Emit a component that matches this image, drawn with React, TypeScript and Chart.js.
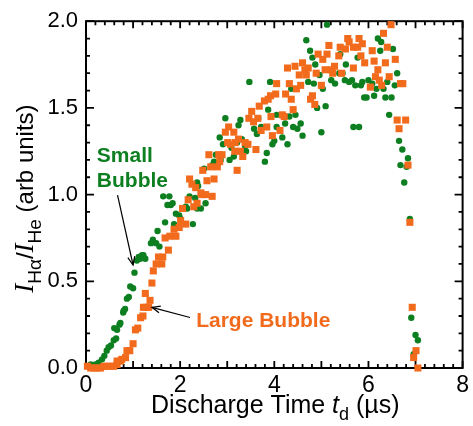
import React, { useEffect, useRef } from 'react';
import { Chart, registerables } from 'chart.js';
Chart.register(...registerables);

const xTickValues = [0, 2, 4, 6, 8];
const yTickValues = [0, 0.5, 1.0, 1.5, 2.0];

// Small bubble (green circles): [time td (µs), I_Ha/I_He]
const smallBubble: [number, number][] = [
  [0.10,0.02],[0.20,0.02],[0.27,0.03],[0.34,0.05],[0.39,0.07],[0.44,0.10],[0.48,0.12],[0.53,0.13],[0.59,0.16],[0.64,0.17],
  [0.60,0.23],[0.66,0.22],[0.71,0.25],[0.73,0.26],[0.79,0.32],[0.80,0.33],[0.83,0.34],[0.87,0.40],[0.91,0.41],[0.94,0.47],
  [1.00,0.46],[1.03,0.55],[1.08,0.62],[1.12,0.64],[1.15,0.63],[1.19,0.65],[1.22,0.65],[1.26,0.63],[1.38,0.72],[1.42,0.74],
  [1.49,0.72],[1.52,0.79],[1.56,0.70],[1.64,0.99],[1.68,0.84],[1.73,0.94],[1.77,0.99],[1.80,0.94],[1.84,0.95],[1.87,0.83],
  [1.91,0.89],[1.98,0.88],[2.01,0.86],[2.12,0.93],[2.15,0.92],[2.20,0.99],[2.27,0.83],[2.32,0.98],[2.36,1.07],[2.38,1.05],
  [2.36,0.92],[2.44,0.92],[2.51,1.15],[2.54,0.95],[2.65,1.16],[2.68,1.17],[2.72,1.19],[2.76,1.23],[2.79,1.17],[2.84,1.33],
  [2.86,1.20],[2.91,1.29],[2.96,1.44],[3.05,1.20],[3.09,1.27],[3.14,1.22],[3.21,1.30],[3.24,1.40],[3.28,1.43],[3.31,1.32],
  [3.38,1.28],[3.40,1.25],[3.47,1.65],[3.57,1.38],[3.63,1.35],[3.66,1.44],[3.72,1.39],[3.80,1.19],[3.84,1.24],[3.87,1.49],
  [3.91,1.65],[3.96,1.29],[4.00,1.31],[4.05,1.46],[4.05,1.39],[4.17,1.33],[4.23,1.41],[4.28,1.29],[4.32,1.45],[4.36,1.61],
  [4.40,1.39],[4.45,1.46],[4.49,1.38],[4.56,1.41],[4.60,1.34],[4.68,1.89],[4.72,1.65],[4.76,1.83],[4.81,1.79],[4.84,1.64],
  [4.87,1.75],[4.91,1.50],[4.96,1.69],[5.00,1.36],[5.03,1.61],[5.09,1.51],[5.12,1.98],[5.21,1.66],[5.29,1.64],[5.38,1.70],
  [5.40,1.81],[5.45,1.70],[5.50,1.66],[5.52,1.75],[5.59,1.65],[5.65,1.66],[5.68,1.39],[5.72,1.63],[5.77,1.79],[5.80,1.39],
  [5.84,1.63],[5.87,1.65],[5.91,1.56],[5.96,1.56],[6.00,1.66],[6.08,1.64],[6.12,1.57],[6.17,1.61],[6.20,1.90],[6.25,1.83],
  [6.27,1.88],[6.32,1.61],[6.36,1.56],[6.40,1.65],[6.44,1.46],[6.49,1.56],[6.52,1.84],[6.56,1.63],[6.61,1.70],[6.65,1.31],
  [6.68,1.17],[6.72,1.26],[6.76,1.07],[6.81,1.16],[6.84,1.21],[6.88,0.86],[6.91,0.29],[6.96,0.08],[7.00,0.19],[7.05,0.16],
];

// Large bubble (orange squares)
const largeBubble: [number, number][] = [
  [0.03,0.01],[0.10,0.00],[0.17,0.00],[0.24,0.00],[0.31,0.00],[0.38,0.01],[0.45,0.01],[0.52,0.01],[0.59,0.01],[0.66,0.02],
  [0.66,0.04],[0.73,0.04],[0.76,0.05],[0.84,0.06],[0.87,0.10],[0.93,0.10],[1.00,0.14],[1.05,0.22],[1.10,0.23],[1.16,0.29],
  [1.21,0.30],[1.22,0.35],[1.26,0.43],[1.28,0.35],[1.33,0.35],[1.36,0.39],[1.40,0.49],[1.43,0.56],[1.49,0.60],[1.54,0.64],
  [1.61,0.60],[1.63,0.64],[1.68,0.75],[1.75,0.68],[1.78,0.76],[1.87,0.80],[1.91,0.76],[1.98,0.81],[2.01,0.85],[2.05,0.92],
  [2.12,0.83],[2.17,0.97],[2.20,1.09],[2.25,1.06],[2.29,0.93],[2.33,1.04],[2.36,0.95],[2.44,1.01],[2.46,1.00],[2.48,1.14],
  [2.54,1.00],[2.57,1.08],[2.61,1.23],[2.65,1.16],[2.68,0.99],[2.72,1.09],[2.79,1.16],[2.82,1.23],[2.84,1.19],[2.89,1.23],
  [2.96,1.36],[3.01,1.30],[3.03,1.39],[3.07,1.29],[3.14,1.36],[3.16,1.25],[3.17,1.30],[3.21,1.14],[3.24,1.32],[3.28,1.25],
  [3.33,1.22],[3.38,1.30],[3.44,1.29],[3.46,1.44],[3.52,1.48],[3.56,1.42],[3.61,1.26],[3.65,1.44],[3.68,1.51],[3.72,1.37],
  [3.79,1.54],[3.84,1.39],[3.87,1.55],[3.92,1.57],[3.93,1.45],[3.96,1.34],[4.03,1.58],[4.05,1.64],[4.12,1.37],[4.17,1.46],
  [4.21,1.45],[4.24,1.58],[4.28,1.73],[4.32,1.64],[4.36,1.55],[4.40,1.49],[4.44,1.74],[4.47,1.61],[4.53,1.69],[4.56,1.63],
  [4.60,1.76],[4.65,1.72],[4.68,1.69],[4.72,1.73],[4.77,1.55],[4.81,1.57],[4.86,1.52],[4.89,1.70],[4.93,1.81],[5.00,1.63],
  [5.03,1.78],[5.08,1.72],[5.12,1.81],[5.16,1.86],[5.21,1.72],[5.24,1.70],[5.28,1.74],[5.37,1.80],[5.40,1.85],[5.43,1.70],
  [5.51,1.84],[5.56,1.90],[5.59,1.88],[5.68,1.85],[5.68,1.73],[5.77,1.85],[5.80,1.90],[5.84,1.80],[5.87,1.87],[5.92,1.76],
  [6.04,1.62],[6.08,1.83],[6.12,1.77],[6.15,1.68],[6.20,1.72],[6.23,1.66],[6.28,1.63],[6.32,1.93],[6.36,1.76],[6.40,1.85],
  [6.44,1.68],[6.48,1.98],[6.57,1.78],[6.61,1.43],[6.65,1.38],[6.68,1.64],[6.73,1.64],[6.79,1.43],[6.84,1.17],[6.88,0.84],
  [6.93,0.35],[6.96,0.06],[7.01,0.10],[7.05,0.00],
];

const GREEN = '#0d7f20';
const ORANGE = '#f26b1d';
const SANS = '"Liberation Sans", Arial, Helvetica, sans-serif';
const SERIF = '"Liberation Serif", "Times New Roman", serif';

type Piece = { t: string; font: string; dy: number };

function drawPieces(ctx: CanvasRenderingContext2D, pieces: Piece[], cx: number, baseY: number) {
  let total = 0;
  const widths = pieces.map((p) => {
    ctx.font = p.font;
    const w = ctx.measureText(p.t).width;
    total += w;
    return w;
  });
  let x = cx - total / 2;
  ctx.textAlign = 'left';
  ctx.textBaseline = 'alphabetic';
  pieces.forEach((p, i) => {
    ctx.font = p.font;
    ctx.fillText(p.t, x, baseY + p.dy);
    x += widths[i];
  });
}

function arrow(ctx: CanvasRenderingContext2D, x1: number, y1: number, x2: number, y2: number) {
  ctx.beginPath();
  ctx.moveTo(x1, y1);
  ctx.lineTo(x2, y2);
  ctx.stroke();
  const ang = Math.atan2(y2 - y1, x2 - x1);
  const L = 9;
  const spread = 0.4;
  ctx.beginPath();
  ctx.moveTo(x2 - L * Math.cos(ang - spread), y2 - L * Math.sin(ang - spread));
  ctx.lineTo(x2, y2);
  ctx.lineTo(x2 - L * Math.cos(ang + spread), y2 - L * Math.sin(ang + spread));
  ctx.stroke();
}

const framePlugin = {
  id: 'frameTicks',
  beforeDatasetsDraw(chart: any) {
    const { ctx, chartArea: a, scales } = chart;
    const xs = scales.x;
    const ys = scales.y;
    ctx.save();
    ctx.strokeStyle = '#000';
    ctx.lineWidth = 2;
    ctx.strokeRect(a.left, a.top, a.right - a.left, a.bottom - a.top);
    ctx.lineWidth = 1.8;
    ctx.beginPath();
    for (let i = 0; i <= 40; i++) {
      const px = xs.getPixelForValue(i / 5);
      const len = i % 5 === 0 ? 7 : 4;
      ctx.moveTo(px, a.bottom);
      ctx.lineTo(px, a.bottom - len);
      ctx.moveTo(px, a.top);
      ctx.lineTo(px, a.top + len);
    }
    for (let i = 0; i <= 20; i++) {
      const py = ys.getPixelForValue(i / 10);
      const len = i % 5 === 0 ? 8 : 4;
      ctx.moveTo(a.left, py);
      ctx.lineTo(a.left + len, py);
      ctx.moveTo(a.right, py);
      ctx.lineTo(a.right - len, py);
    }
    ctx.stroke();
    ctx.restore();
  },
  afterDraw(chart: any) {
    const { ctx, chartArea: a, scales } = chart;
    const xs = scales.x;
    const ys = scales.y;
    ctx.save();
    ctx.fillStyle = '#000';
    // x axis title
    drawPieces(
      ctx,
      [
        { t: 'Discharge Time ', font: `25px ${SANS}`, dy: 0 },
        { t: 't', font: `italic 25px ${SANS}`, dy: 0 },
        { t: 'd', font: `18px ${SANS}`, dy: 7 },
        { t: ' (\u00b5s)', font: `25px ${SANS}`, dy: 0 },
      ],
      (a.left + a.right) / 2 + 1,
      413
    );
    // y axis title (rotated)
    ctx.save();
    ctx.translate(33, (a.top + a.bottom) / 2 + 4);
    ctx.rotate(-Math.PI / 2);
    drawPieces(
      ctx,
      [
        { t: 'I', font: `italic 27px ${SERIF}`, dy: 0 },
        { t: 'H\u03b1', font: `19px ${SANS}`, dy: 8 },
        { t: '/', font: `24px ${SANS}`, dy: 0 },
        { t: 'I', font: `italic 27px ${SERIF}`, dy: 0 },
        { t: 'He', font: `19px ${SANS}`, dy: 8 },
        { t: ' (arb units)', font: `24px ${SANS}`, dy: 0 },
      ],
      0,
      0
    );
    ctx.restore();

    // annotations
    ctx.font = `bold 21px ${SANS}`;
    ctx.textAlign = 'left';
    ctx.textBaseline = 'alphabetic';
    ctx.fillStyle = GREEN;
    ctx.fillText('Small', xs.getPixelForValue(0.23), ys.getPixelForValue(1.187));
    ctx.fillText('Bubble', xs.getPixelForValue(0.23), ys.getPixelForValue(1.043));
    ctx.fillStyle = ORANGE;
    ctx.fillText('Large Bubble', xs.getPixelForValue(2.34), ys.getPixelForValue(0.236));

    ctx.strokeStyle = '#000';
    ctx.lineWidth = 1.2;
    arrow(ctx, xs.getPixelForValue(0.67), ys.getPixelForValue(0.997), xs.getPixelForValue(1.0), ys.getPixelForValue(0.594));
    arrow(ctx, xs.getPixelForValue(2.21), ys.getPixelForValue(0.291), xs.getPixelForValue(1.4), ys.getPixelForValue(0.35));
    ctx.restore();
  },
};

export default function App() {
  const ref = useRef<HTMLCanvasElement | null>(null);
  useEffect(() => {
    if (!ref.current) return;
    const chart = new Chart(ref.current, {
      type: 'scatter',
      data: {
        datasets: [
          {
            label: 'Large Bubble',
            data: largeBubble.map(([x, y]) => ({ x, y })),
            pointStyle: 'rect',
            pointRadius: 5,
            pointBorderWidth: 0,
            backgroundColor: ORANGE,
            borderColor: ORANGE,
            order: 0,
            clip: false as any,
          },
          {
            label: 'Small Bubble',
            data: smallBubble.map(([x, y]) => ({ x, y })),
            pointStyle: 'circle',
            pointRadius: 3.2,
            pointBorderWidth: 0,
            backgroundColor: GREEN,
            borderColor: GREEN,
            order: 1,
            clip: false as any,
          },
        ],
      },
      options: {
        responsive: false,
        animation: false,
        events: [],
        layout: { padding: { left: 0, top: 21, right: 7, bottom: 0 } },
        plugins: { legend: { display: false }, tooltip: { enabled: false } },
        scales: {
          x: {
            type: 'linear',
            min: 0,
            max: 8,
            afterFit: (s: any) => { s.height = 58; },
            afterBuildTicks: (s: any) => { s.ticks = xTickValues.map((v) => ({ value: v })); },
            grid: { display: false, drawTicks: false },
            border: { display: false },
            ticks: {
              padding: 4,
              color: '#000',
              font: { family: SANS, size: 23 },
              callback: (v: any) => String(v),
              maxRotation: 0,
            },
          },
          y: {
            type: 'linear',
            min: 0,
            max: 2,
            afterFit: (s: any) => { s.width = 86; },
            afterBuildTicks: (s: any) => { s.ticks = yTickValues.map((v) => ({ value: v })); },
            grid: { display: false, drawTicks: false },
            border: { display: false },
            ticks: {
              padding: 8,
              color: '#000',
              font: { family: SANS, size: 22 },
              callback: (v: any) => Number(v).toFixed(1),
            },
          },
        },
      },
      plugins: [framePlugin],
    });
    return () => chart.destroy();
  }, []);
  return (
    <div style={{ position: 'absolute', left: 0, top: 0, width: 473, height: 426, background: '#fff' }}>
      <canvas ref={ref} width={473} height={426} />
    </div>
  );
}
